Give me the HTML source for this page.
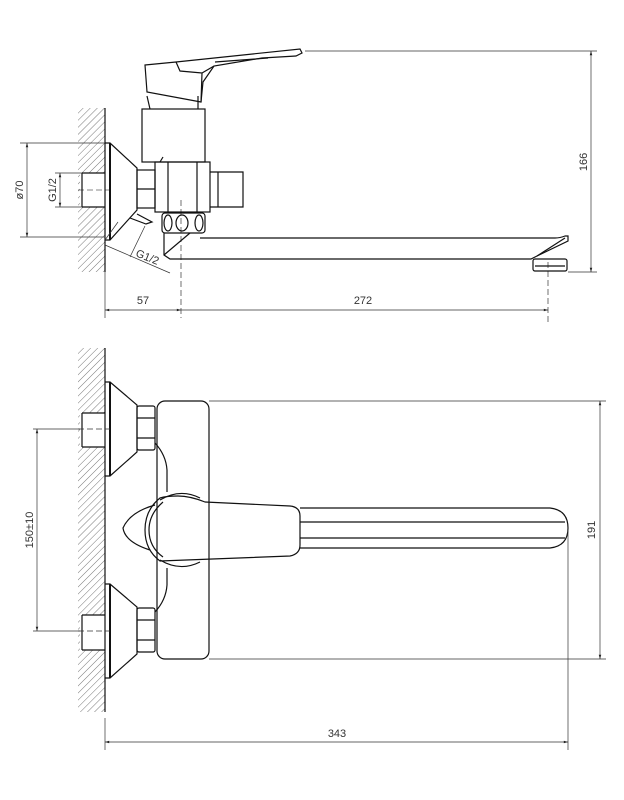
<!DOCTYPE html>
<html><head><meta charset="utf-8"><style>
html,body{margin:0;padding:0;background:#fff}
svg{display:block}
text{font-family:"Liberation Sans",sans-serif;font-size:11px;fill:#333}
</style></head><body>
<svg width="624" height="800" viewBox="0 0 624 800" xmlns="http://www.w3.org/2000/svg">
<defs>
<pattern id="h" width="5" height="5" patternUnits="userSpaceOnUse" patternTransform="rotate(45)">
<line x1="0" y1="0" x2="0" y2="5" stroke="#555" stroke-width="0.8"/>
</pattern>
<marker id="a" viewBox="0 0 10 10" refX="10" refY="5" markerWidth="8" markerHeight="6" orient="auto-start-reverse"><path d="M0,2 L10,5 L0,8 z" fill="#222"/></marker>
</defs>
<g fill="none" stroke="#111" stroke-width="1.2">
<!-- ===== TOP VIEW ===== -->
<rect x="78" y="108" width="27" height="164" fill="url(#h)" stroke="none"/>
<rect x="80" y="173" width="26" height="34" fill="#fff" stroke="none"/>
<line x1="105" y1="108" x2="105" y2="272"/>
<path d="M82,173 H105 M82,207 H105 M82,173 V207"/>
<line x1="78" y1="190" x2="110" y2="190" stroke-width="0.6" stroke-dasharray="6,3"/>
<!-- escutcheon -->
<path d="M105,143 H110 L137,168 V210 L110,240 H105"/>
<line x1="110" y1="143" x2="110" y2="240" stroke-width="2"/>
<path d="M137,214 L152,222 L146,224 L130,218"/>
<!-- nut -->
<rect x="137" y="170" width="18" height="38"/>
<line x1="137" y1="189" x2="155" y2="189"/>
<!-- body -->
<rect x="155" y="162" width="55" height="50"/>
<line x1="168" y1="162" x2="168" y2="212"/>
<line x1="197" y1="162" x2="197" y2="212"/>
<path d="M160,162 L163,157"/>
<!-- knob -->
<path d="M210,172 H243 V207 H210 M218,172 L218,207"/>
<!-- column -->
<rect x="142" y="109" width="63" height="53"/>
<path d="M147,96 L150,109 M198,96 V109"/>
<!-- handle -->
<path d="M145,65 L176,62 L300,49 L302,53 L296,56 L262,58 L214,66 L203,82 L201,102 L147,92 Z"/>
<path d="M176,62 L180,71 L202,73 L214,66 M202,73 L201,102"/>
<path d="M215,62 L268,58"/>
<!-- rings -->
<rect x="162" y="213" width="43" height="20" rx="3"/>
<ellipse cx="168" cy="223" rx="4" ry="8"/>
<ellipse cx="182" cy="223" rx="6" ry="8"/>
<ellipse cx="199" cy="223" rx="4" ry="8"/>
<!-- spout -->
<path d="M164,233 V255 L170,259 H531 L537,256 L568,241 V236 L565,236 Q560,238 555,238 H200"/>
<path d="M164,255 L190,233"/>
<path d="M537,256 L565,238"/>
<rect x="533" y="259" width="34" height="12" rx="2"/>
<line x1="535" y1="266" x2="565" y2="266"/>
<line x1="181" y1="200" x2="181" y2="318" stroke-width="0.6" stroke-dasharray="6,3"/>
<line x1="548" y1="262" x2="548" y2="322" stroke-width="0.6" stroke-dasharray="6,3"/>
</g>
<g fill="none" stroke="#333" stroke-width="0.7">
<!-- dims top -->
<line x1="305" y1="51" x2="597" y2="51"/>
<line x1="568" y1="272" x2="597" y2="272"/>
<line x1="591" y1="51" x2="591" y2="272" marker-start="url(#a)" marker-end="url(#a)"/>
<line x1="105" y1="272" x2="105" y2="318"/>
<line x1="105" y1="310" x2="181" y2="310" marker-start="url(#a)" marker-end="url(#a)"/>
<line x1="181" y1="310" x2="548" y2="310" marker-end="url(#a)"/>
<line x1="20" y1="143" x2="105" y2="143"/>
<line x1="20" y1="237" x2="105" y2="237"/>
<line x1="27" y1="143" x2="27" y2="237" marker-start="url(#a)" marker-end="url(#a)"/>
<line x1="55" y1="173" x2="82" y2="173"/>
<line x1="55" y1="207" x2="82" y2="207"/>
<line x1="60" y1="173" x2="60" y2="207" marker-start="url(#a)" marker-end="url(#a)"/>
<line x1="105" y1="245" x2="170" y2="273"/>
<line x1="105" y1="240" x2="118" y2="222"/>
<line x1="145" y1="226" x2="130" y2="257"/>
</g>
<text x="143" y="304" text-anchor="middle">57</text>
<text x="363" y="304" text-anchor="middle">272</text>
<text transform="translate(587,162) rotate(-90)" text-anchor="middle">166</text>
<text transform="translate(23,190) rotate(-90)" text-anchor="middle">ø70</text>
<text transform="translate(56,190) rotate(-90)" text-anchor="middle">G1/2</text>
<text transform="translate(135,256) rotate(22)" >G1/2</text>

<!-- ===== FRONT VIEW ===== -->
<g fill="none" stroke="#111" stroke-width="1.2">
<rect x="78" y="348" width="27" height="364" fill="url(#h)" stroke="none"/>
<rect x="80" y="413" width="26" height="34" fill="#fff" stroke="none"/>
<rect x="80" y="615" width="26" height="35" fill="#fff" stroke="none"/>
<line x1="105" y1="348" x2="105" y2="712"/>
<path d="M82,413 H105 M82,447 H105 M82,413 V447"/>
<path d="M82,615 H105 M82,650 H105 M82,615 V650"/>
<path d="M105,382 H110 L137,405 V452 L110,476 H105"/>
<line x1="110" y1="382" x2="110" y2="476" stroke-width="2"/>
<path d="M105,584 H110 L137,607 V654 L110,678 H105"/>
<line x1="110" y1="584" x2="110" y2="678" stroke-width="2"/>
<rect x="137" y="406" width="18" height="44" rx="2"/>
<line x1="137" y1="418" x2="155" y2="418"/><line x1="137" y1="438" x2="155" y2="438"/>
<rect x="137" y="608" width="18" height="44" rx="2"/>
<line x1="137" y1="620" x2="155" y2="620"/><line x1="137" y1="640" x2="155" y2="640"/>
<rect x="157" y="401" width="52" height="258" rx="8"/>
<path d="M155,443 Q166,455 167,470 V492"/>
<path d="M155,612 Q166,600 167,585 V568"/>
<path d="M160,500 Q180,488 200,498"/>
<path d="M160,560 Q180,572 200,562"/>
<!-- lever -->
<path d="M155,505 Q130,512 123,528 Q125,542 150,550"/>
<path d="M160,498 Q145,510 145,530 Q145,550 160,561 L290,556 Q300,554 300,545 V516 Q300,507 290,506 L205,502 Q190,496 178,496 Q166,496 160,498 Z"/>
<path d="M163,502 Q149,514 149,530 Q149,547 163,557"/>
<!-- spout -->
<path d="M300,508 H550 Q568,510 568,528 Q568,546 550,548 H300"/>
<line x1="300" y1="522" x2="565" y2="522"/>
<line x1="300" y1="538" x2="565" y2="538"/>
</g>
<g fill="none" stroke="#333" stroke-width="0.7">
<line x1="78" y1="429" x2="110" y2="429" stroke-dasharray="6,3"/>
<line x1="78" y1="631" x2="110" y2="631" stroke-dasharray="6,3"/>
<line x1="33" y1="429" x2="80" y2="429"/>
<line x1="33" y1="631" x2="80" y2="631"/>
<line x1="37" y1="429" x2="37" y2="631" marker-start="url(#a)" marker-end="url(#a)"/>
<line x1="209" y1="401" x2="606" y2="401"/>
<line x1="209" y1="659" x2="606" y2="659"/>
<line x1="600" y1="401" x2="600" y2="659" marker-start="url(#a)" marker-end="url(#a)"/>
<line x1="105" y1="718" x2="105" y2="750"/>
<line x1="568" y1="530" x2="568" y2="750"/>
<line x1="105" y1="742" x2="568" y2="742" marker-start="url(#a)" marker-end="url(#a)"/>
</g>
<text transform="translate(33,530) rotate(-90)" text-anchor="middle">150±10</text>
<text transform="translate(595,530) rotate(-90)" text-anchor="middle">191</text>
<text x="337" y="737" text-anchor="middle">343</text>
</svg>
</body></html>
